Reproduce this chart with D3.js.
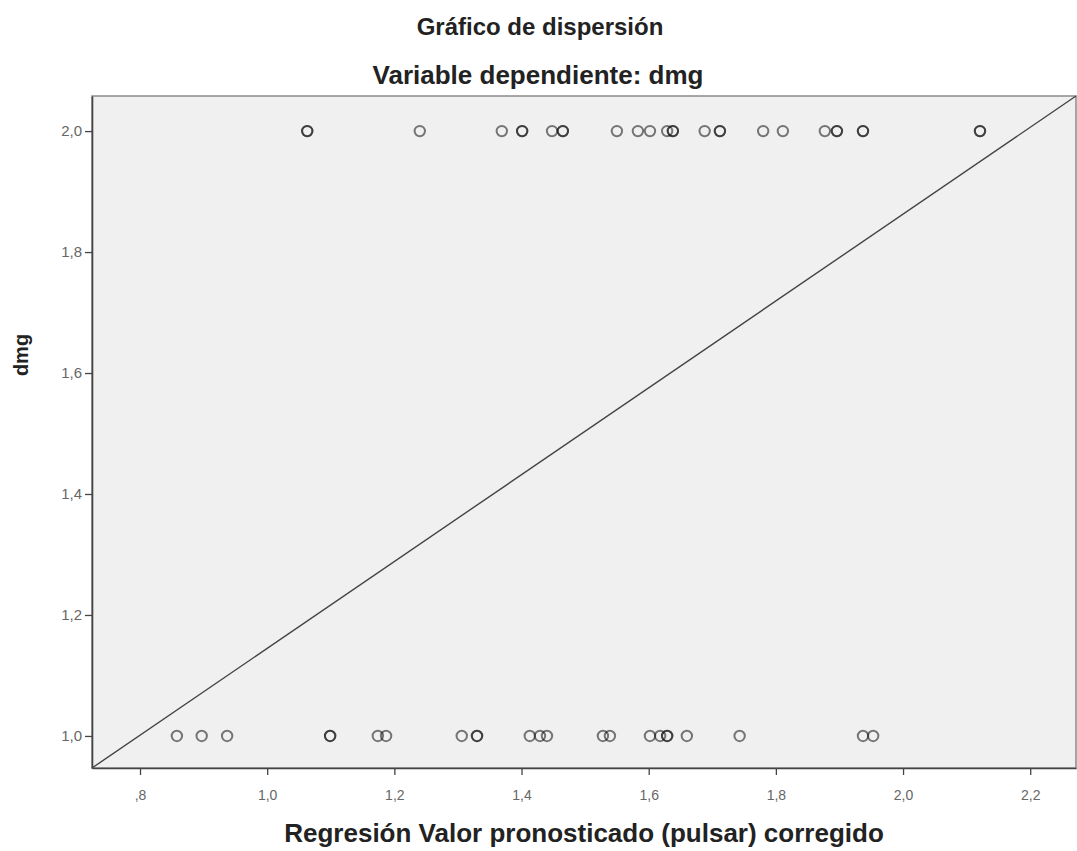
<!DOCTYPE html>
<html>
<head>
<meta charset="utf-8">
<script src="https://cdn.jsdelivr.net/npm/d3@7"></script>
<style>
  body { margin: 0; background: #fff; }
  text { font-family: "Liberation Sans", Arial, sans-serif; }
</style>
</head>
<body>
<div id="chart"></div>
<script>
// predicted values for cases with dmg = 2 and dmg = 1
var top2 = [1.063, 1.063, 1.240, 1.369, 1.401, 1.401, 1.448, 1.465, 1.465, 1.550, 1.583, 1.602, 1.629, 1.638, 1.638,
            1.688, 1.712, 1.712, 1.780, 1.811, 1.877, 1.896, 1.896, 1.937, 1.937, 2.121, 2.121];
var bottom1 = [0.858, 0.897, 0.937, 1.099, 1.099, 1.174, 1.187, 1.306, 1.330, 1.330, 1.413, 1.429, 1.440,
               1.528, 1.539, 1.602, 1.618, 1.629, 1.629, 1.660, 1.743, 1.937, 1.953];
var xTicks = [0.8, 1.0, 1.2, 1.4, 1.6, 1.8, 2.0, 2.2];
var xTickLabels = [",8", "1,0", "1,2", "1,4", "1,6", "1,8", "2,0", "2,2"];
var yTicks = [1.0, 1.2, 1.4, 1.6, 1.8, 2.0];
var yTickLabels = ["1,0", "1,2", "1,4", "1,6", "1,8", "2,0"];
var xDomain = [0.7245, 2.272];
var yDomain = [0.947, 2.058];

var W = 1077, H = 851,
    margin = {top: 96, right: 1, bottom: 83, left: 92},
    width = W - margin.left - margin.right,
    height = H - margin.top - margin.bottom;

var svg = d3.select("#chart").append("svg")
    .attr("width", W)
    .attr("height", H);

var g = svg.append("g")
    .attr("transform", "translate(" + margin.left + "," + margin.top + ")");

var x = d3.scaleLinear().domain(xDomain).range([0, width]);
var y = d3.scaleLinear().domain(yDomain).range([height, 0]);

// plot background
g.append("rect")
    .attr("width", width)
    .attr("height", height)
    .attr("fill", "#f0f0f0")
    .attr("stroke", "#8a8a8a")
    .attr("stroke-width", 1.5);

// axes
var xAxis = d3.axisBottom(x).tickValues(xTicks).tickSize(7).tickSizeOuter(0)
    .tickFormat(function(d, i) { return xTickLabels[i]; });
var yAxis = d3.axisLeft(y).tickValues(yTicks).tickSize(7).tickSizeOuter(0)
    .tickFormat(function(d, i) { return yTickLabels[i]; });

var gx = g.append("g").attr("transform", "translate(0," + height + ")").call(xAxis);
var gy = g.append("g").call(yAxis);

[gx, gy].forEach(function(a) {
    a.select(".domain").attr("stroke", "#444").attr("stroke-width", 1.6);
    a.selectAll(".tick line").attr("stroke", "#444").attr("stroke-width", 1.3);
    a.selectAll(".tick text").attr("fill", "#666").style("font-size", "14px")
        .style("font-family", "'Liberation Sans', Arial, sans-serif");
});
gx.selectAll(".tick text").attr("y", 22);
gy.selectAll(".tick text").style("font-size", "15px");

// reference line corner to corner
var refLine = [[xDomain[0], yDomain[0]], [xDomain[1], yDomain[1]]];
g.append("path")
    .datum(refLine)
    .attr("fill", "none")
    .attr("stroke", "#444")
    .attr("stroke-width", 1.4)
    .attr("d", d3.line().x(function(d) { return x(d[0]); }).y(function(d) { return y(d[1]); }));

// points
var pts = top2.map(function(v) { return {x: v, y: 2.0}; })
    .concat(bottom1.map(function(v) { return {x: v, y: 1.0}; }));

g.selectAll(".pt")
    .data(pts)
    .enter().append("circle")
    .attr("class", "pt")
    .attr("cx", function(d) { return x(d.x); })
    .attr("cy", function(d) { return y(d.y); })
    .attr("r", 5.2)
    .attr("fill", "none")
    .attr("stroke", "#111")
    .attr("stroke-opacity", 0.55)
    .attr("stroke-width", 2);

// titles
svg.append("text")
    .attr("x", 540).attr("y", 35)
    .attr("text-anchor", "middle")
    .style("font-size", "24px").style("font-weight", "bold").attr("fill", "#222")
    .text("Gráfico de dispersión");

svg.append("text")
    .attr("x", 538).attr("y", 84)
    .attr("text-anchor", "middle")
    .style("font-size", "26px").style("font-weight", "bold").attr("fill", "#222")
    .text("Variable dependiente: dmg");

svg.append("text")
    .attr("x", margin.left + width / 2).attr("y", 842)
    .attr("text-anchor", "middle")
    .style("font-size", "26px").style("font-weight", "bold").attr("fill", "#222")
    .text("Regresión Valor pronosticado (pulsar) corregido");

svg.append("text")
    .attr("transform", "translate(28,355) rotate(-90)")
    .attr("text-anchor", "middle")
    .style("font-size", "20px").style("font-weight", "bold").attr("fill", "#222")
    .text("dmg");
</script>
</body>
</html>
